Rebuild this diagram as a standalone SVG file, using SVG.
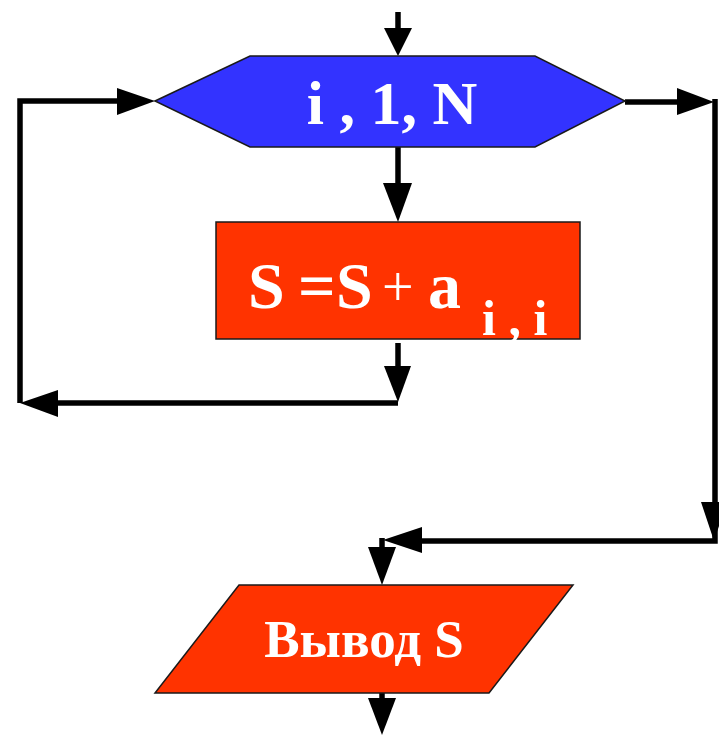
<svg xmlns="http://www.w3.org/2000/svg" width="719" height="737" viewBox="0 0 719 737">
<style>
.ln{fill:none;stroke:#000;stroke-width:5.5;stroke-linecap:butt;stroke-linejoin:miter}
.ah{fill:#000;stroke:none}
.shape{stroke:#1a1a1a;stroke-width:1.5}
.blue{fill:#3333FF}
.red{fill:#FF3300}
.t{font-family:"Liberation Serif","Times New Roman",serif;font-weight:bold;fill:#fff}
</style>
<rect width="719" height="737" fill="#fff"/>
<g id="connectors">
  <path class="ln" d="M398,12 V30"/>
  <polygon class="ah" points="384,28 412,28 398,56"/>
  <path class="ln" d="M398,147 V186"/>
  <polygon class="ah" points="383,183 412,183 398,222"/>
  <path class="ln" d="M398,343 V370"/>
  <polygon class="ah" points="384,366 411,366 398,402"/>
  <path class="ln" d="M398,403 H55"/>
  <polygon class="ah" points="20,403 58,390 58,417"/>
  <path class="ln" d="M20,403 V101 H120"/>
  <polygon class="ah" points="155,101 117,88 117,115"/>
  <path class="ln" d="M625,102 H680"/>
  <polygon class="ah" points="677,88 677,115 714,102"/>
  <path class="ln" d="M715,99 V541 H420"/>
  <polygon class="ah" points="701,502 727,502 714,541"/>
  <polygon class="ah" points="383,540 422,527 422,553"/>
  <path class="ln" d="M382,538 V550"/>
  <polygon class="ah" points="368,547 396,547 382,585"/>
  <path class="ln" d="M382,693 V701"/>
  <polygon class="ah" points="368,698 396,698 382,735"/>
</g>
<g id="loop">
  <polygon class="shape blue" points="155,101 250,56 535,56 625,101 535,147 250,147"/>
  <text class="t" x="392" y="124" font-size="62" text-anchor="middle">i , 1, N</text>
</g>
<g id="sum">
  <rect class="shape red" x="216" y="222" width="364" height="117"/>
  <text class="t" y="308" font-size="66"><tspan x="248">S</tspan><tspan x="298">=</tspan><tspan x="336">S</tspan><tspan x="382" y="306" font-size="56" font-weight="normal">+</tspan><tspan x="428" y="308" font-size="66">a</tspan><tspan x="482" y="335" font-size="50">i , i</tspan></text>
</g>
<g id="output">
  <polygon class="shape red" points="239,585 573,585 489,693 155,693"/>
  <text class="t" x="364" y="657" font-size="53" text-anchor="middle">Вывод S</text>
</g>
</svg>
